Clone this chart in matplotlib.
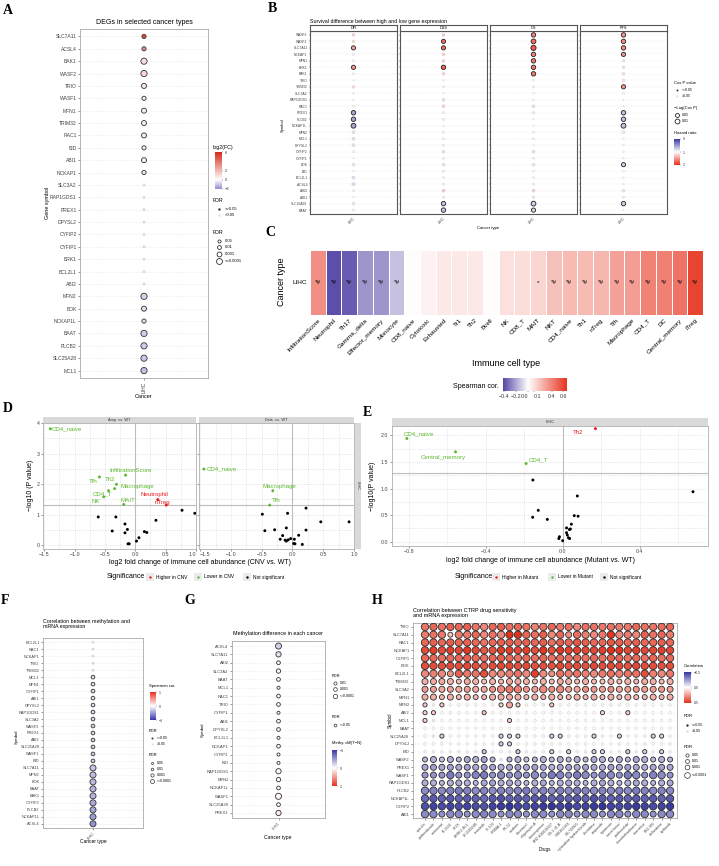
import numpy as np
import matplotlib.pyplot as plt
from matplotlib.colors import LinearSegmentedColormap, Normalize
from matplotlib.cm import ScalarMappable
from matplotlib.patches import Rectangle
from matplotlib.ticker import AutoMinorLocator

# ---------------- data ----------------
# A  DEGs in LIHC
A_genes = ['SLC7A11', 'ACSL4', 'BAK1', 'WASF2', 'TRIO', 'WASF1', 'MFN1', 'TRIM32', 'RAC1', 'BID',
           'ABI1', 'NCKAP1', 'SLC3A2', 'RAP1GDS1', 'PREX1', 'DPYSL2', 'CYFIP2', 'CYFIP1', 'BRK1',
           'BCL2L1', 'ABI2', 'MFN2', 'BOK', 'NCKAP1L', 'BAAT', 'PLCB2', 'SLC25A28', 'MCL1']
A_log2fc = [5.0, 3.2, 1.0, 1.1, 0.8, 0.6, 0.6, 0.6, 0.7, 0.4, 0.5, 0.6, 0.1, 0.1, 0.2, 0.1, 0.1,
            0.1, 0.2, 0.1, 0.1, -0.8, -0.6, -0.5, -0.9, -0.9, -1.0, -1.1]
A_fdr = [1e-2, 1e-2, 1e-5, 1e-5, 1e-3, 1e-2, 1e-3, 1e-3, 1e-3, 1e-2, 1e-3, 1e-2, 0.6, 0.7, 0.3,
         0.3, 0.3, 0.6, 0.3, 0.3, 0.3, 1e-4, 1e-3, 1e-2, 1e-5, 1e-4, 1e-4, 1e-5]

# B  survival (hazard ratio, cox p) per endpoint
B_genes = ['WASF2', 'WASF1', 'SLC7A11', 'NCKAP1', 'MFN1', 'BRK1', 'BAK1', 'TRIO', 'TRIM32', 'SLC3A2',
           'RAP1GDS1', 'RAC1', 'PREX1', 'PLCB2', 'NCKAP1L', 'MFN2', 'MCL1', 'DPYSL2', 'CYFIP2',
           'CYFIP1', 'BOK', 'BID', 'BCL2L1', 'ACSL4', 'ABI2', 'ABI1', 'SLC25A28', 'BAAT']
B_facets = ['DFI', 'DSS', 'OS', 'PFS']
B_hr_dfi = [1.25, 1.2, 1.45, 1.0, 1.0, 1.5, 1.0, 1.0, 1.2, 1.0, 1.0, 1.0, 0.55, 0.55, 0.55, 0.85,
            0.85, 0.85, 0.95, 1.0, 0.88, 1.0, 0.85, 0.82, 1.05, 1.0, 0.88, 0.95]
B_p_dfi = [0.2, 0.25, 0.03, 0.3, 0.4, 0.03, 0.4, 0.8, 0.2, 0.5, 0.7, 0.5, 0.02, 0.02, 0.01, 0.15,
           0.15, 0.15, 0.4, 0.8, 0.2, 0.7, 0.15, 0.1, 0.4, 0.8, 0.2, 0.4]
B_hr_dss = [1.25, 1.7, 1.7, 1.25, 1.25, 1.75, 1.25, 1.0, 1.05, 1.0, 0.85, 1.25, 0.95, 0.95, 1.0,
            0.95, 0.95, 0.95, 0.85, 0.95, 0.85, 0.95, 0.95, 0.95, 1.3, 0.95, 0.7, 0.7]
B_p_dss = [0.2, 0.03, 0.03, 0.2, 0.2, 0.02, 0.2, 0.9, 0.4, 0.9, 0.2, 0.2, 0.4, 0.4, 0.9, 0.4, 0.4,
           0.4, 0.2, 0.4, 0.2, 0.4, 0.4, 0.4, 0.15, 0.4, 0.02, 0.02]
B_hr_os = [1.6, 1.7, 1.8, 1.6, 1.65, 1.65, 1.65, 1.0, 1.05, 1.0, 1.0, 1.2, 0.9, 1.0, 1.0, 0.95,
           0.95, 1.0, 0.85, 0.95, 0.85, 0.95, 0.95, 0.95, 1.25, 1.15, 0.75, 0.8]
B_p_os = [0.02, 0.01, 0.005, 0.02, 0.02, 0.02, 0.02, 0.5, 0.4, 0.6, 0.6, 0.2, 0.3, 0.9, 0.9, 0.4,
          0.4, 0.9, 0.2, 0.5, 0.2, 0.5, 0.5, 0.4, 0.15, 0.3, 0.01, 0.03]
B_hr_pfs = [1.5, 1.55, 1.55, 1.5, 1.15, 1.15, 1.15, 1.15, 1.5, 1.0, 1.0, 1.0, 0.7, 0.7, 0.7, 0.9,
            1.0, 1.0, 1.0, 1.0, 0.75, 1.0, 1.0, 1.0, 1.15, 1.1, 0.75, 1.0]
B_p_pfs = [0.02, 0.02, 0.02, 0.03, 0.3, 0.3, 0.2, 0.25, 0.03, 0.4, 0.9, 0.9, 0.02, 0.02, 0.01, 0.2,
           0.6, 0.5, 0.6, 0.6, 0.03, 0.5, 0.6, 0.6, 0.2, 0.4, 0.02, 0.7]

# C  immune infiltration correlation
C_cells = ['InfiltrationScore', 'Neutrophil', 'Th17', 'Gamma_delta', 'Effector_memory', 'Monocyte',
           'CD8_naive', 'Cytotoxic', 'Exhausted', 'Tr1', 'Th2', 'Bcell', 'NK', 'CD8_T', 'MAIT', 'NKT',
           'CD4_naive', 'Th1', 'nTreg', 'Tfh', 'Macrophage', 'CD4_T', 'DC', 'Central_memory', 'iTreg']
C_cor = [0.36, -0.40, -0.37, -0.24, -0.24, -0.14, 0.01, 0.04, 0.07, 0.07, 0.07, 0.01, 0.10, 0.11,
         0.13, 0.20, 0.22, 0.22, 0.23, 0.30, 0.31, 0.40, 0.41, 0.45, 0.60]
C_mark = ['*#', '*#', '*#', '*#', '*#', '*#', '', '', '', '', '', '', '', '', '*', '*#', '*#', '*#',
          '*#', '*#', '*#', '*#', '*#', '*#', '*#']

# D  CNV vs WT
D_amp_x = [-1.40, -0.16, -0.59, -0.31, -0.34, -0.44, -0.52, -0.19, 0.37, 0.51,
           -0.61, -0.32, -0.38, -0.17, -0.13, -0.17, -0.12, -0.10, 0.02, 0.06, 0.15, 0.19, 0.34, 0.77, 0.98]
D_amp_y = [3.81, 2.29, 2.23, 1.99, 1.85, 1.78, 1.58, 1.33, 1.49, 1.31,
           0.92, 0.92, 0.46, 0.69, 0.51, 0.40, 0.04, 0.04, 0.13, 0.24, 0.44, 0.41, 0.81, 1.14, 1.04]
D_amp_grp = ['down'] * 8 + ['up'] * 2 + ['ns'] * 15
D_amp_lab = ['CD4_naive', 'InfiltrationScore', 'Tfh', 'Th2', 'Macrophage', 'CD4_T', 'NK', 'MAIT',
             'Neutrophil', 'nTreg'] + [''] * 15
D_del_x = [-1.44, -0.32, -0.37,
           -0.49, -0.08, 0.22, -0.45, -0.29, -0.10, 0.22, 0.46, 0.92, -0.16, -0.20, -0.12, -0.10,
           -0.07, -0.03, 0.03, 0.10, 0.02, 0.04, 0.16]
D_del_y = [2.49, 1.78, 1.31,
           1.01, 1.04, 1.21, 0.47, 0.50, 0.56, 0.49, 0.76, 0.76, 0.31, 0.19, 0.16, 0.13,
           0.17, 0.21, 0.19, 0.32, 0.05, 0.04, 0.02]
D_del_grp = ['down'] * 3 + ['ns'] * 20
D_del_lab = ['CD4_naive', 'Macrophage', 'Tfh'] + [''] * 20

# E  mutant vs WT
E_x = [-0.81, -0.557, -0.19, 0.17, -0.155, 0.076, 0.677, -0.127, -0.156, -0.08, 0.06, 0.08, 0.045,
       0.02, 0.035, 0.04, 0.02, 0.024, 0.03, 0.036, -0.017, -0.02, 0.0]
E_y = [1.94, 1.69, 1.47, 2.125, 1.16, 0.86, 0.94, 0.59, 0.46, 0.42, 0.49, 0.48, 0.33, 0.26, 0.23,
       0.24, 0.17, 0.125, 0.075, 0.06, 0.094, 0.06, 0.02]
E_grp = ['down', 'down', 'down', 'up'] + ['ns'] * 19
E_lab = ['CD4_naive', 'Central_memory', 'CD4_T', 'Th2'] + [''] * 19

# F  methylation vs mRNA
F_genes = ['BCL2L1', 'RAC1', 'NCKAP1', 'TRIO', 'TRIM32', 'MCL1', 'MFN1', 'CYFIP1', 'ABI1', 'DPYSL2',
           'RAP1GDS1', 'SLC3A2', 'WASF2', 'PREX1', 'ABI2', 'SLC25A28', 'WASF1', 'BID', 'SLC7A11',
           'MFN2', 'BOK', 'BAAT', 'BAK1', 'CYFIP2', 'PLCB2', 'NCKAP1L', 'ACSL4']
F_cor = [0.0, -0.02, -0.03, -0.04, -0.05, -0.15, -0.16, -0.17, -0.17, -0.18, -0.19, -0.2, -0.2,
         -0.21, -0.22, -0.23, -0.24, -0.25, -0.3, -0.33, -0.35, -0.37, -0.38, -0.42, -0.45, -0.5, -0.55]
F_fdr = [0.5, 0.4, 0.3, 0.2, 0.1, 0.01, 0.01, 0.01, 0.01, 0.01, 0.01, 0.01, 0.01, 0.01, 0.01, 0.01,
         0.01, 0.005, 1e-4, 1e-5, 1e-5, 1e-5, 1e-5, 1e-5, 1e-5, 1e-5, 1e-5]

# G  methylation difference
G_genes = ['ACSL4', 'SLC7A11', 'ABI2', 'SLC3A2', 'BAAT', 'MCL1', 'RAC1', 'TRIO', 'CYFIP1', 'ABI1',
           'DPYSL2', 'BCL2L1', 'NCKAP1', 'CYFIP2', 'BID', 'RAP1GDS1', 'MFN2', 'NCKAP1L', 'WASF1',
           'SLC25A28', 'PREX1']
G_diff = [-0.25, -0.15, -0.02, -0.03, 0.02, 0.0, 0.02, 0.02, 0.0, 0.01, 0.02, 0.0, 0.01, 0.01, 0.0,
          0.03, 0.02, 0.03, 0.05, 0.02, 0.1]
G_fdr = [1e-8, 1e-6, 1e-3, 1e-4, 1e-3, 1e-2, 1e-3, 1e-3, 1e-2, 1e-3, 1e-3, 1e-2, 1e-3, 1e-2, 1e-2,
         1e-6, 1e-4, 1e-3, 1e-8, 1e-3, 1e-6]

# H  CTRP drug sensitivity correlation (x100)
H_drugs = ['apicidin', 'parbendazole', 'vorinostat', 'BI-2536', 'ISOX', 'LRRK2-IN-1', 'LY-2183240',
           'tivantinib', 'PI-103', 'PRIMA-1', 'PX-12', 'ouabain', 'docetaxel', 'oligomycin A',
           'staurosporine', 'BRD-K30019337', 'CR-1-31-B', 'GSK461364', 'SB-743921',
           'cytarabine hydrochloride', 'decitabine', 'etoposide', 'topotecan', 'narciclasine',
           'parthenolide', 'triazolothiadiazine', 'vincristine', 'KX2-391', 'clofarabine', 'tipifarnib']
H_genes = ['TRIO', 'SLC7A11', 'RAC1', 'NCKAP1', 'CYFIP1', 'BOK', 'BCL2L1', 'TRIM32', 'SLC3A2', 'MFN1',
           'MFN2', 'ABI2', 'MCL1', 'BAAT', 'SLC25A28', 'DPYSL2', 'BID', 'WASF2', 'PREX1', 'WASF1',
           'RAP1GDS1', 'PLCB2', 'NCKAP1L', 'CYFIP2', 'ABI1']
H_cor = [
    [35, 38, 36, 40, 38, 40, 35, 30, 38, 40, 36, 38, 35, 32, 35, 38, 34, 36, 30, 36, 35, 34, 36, 33, 34, 38, 36, 35, 37, 38],
    [33, 35, 34, 15, 33, 33, 38, 30, 36, 30, 55, 56, 38, 36, 40, 30, 38, 28, 36, 32, 30, 34, 50, 30, 33, 30, 40, 35, 38, 33],
    [38, 40, 38, 40, 38, 40, 38, 35, 38, 40, 40, 38, 40, 38, 40, 36, 40, 38, 42, 40, 38, 38, 42, 40, 38, 40, 38, 38, 40, 38],
    [45, 48, 45, 48, 46, 50, 46, 42, 44, 48, 48, 46, 48, 45, 50, 45, 50, 48, 48, 46, 46, 48, 52, 50, 46, 48, 46, 46, 48, 46],
    [38, 38, 36, 38, 38, 40, 38, 36, 38, 40, 38, 36, 38, 36, 38, 36, 38, 36, 38, 36, 38, 36, 40, 38, 36, 38, 36, 38, 36, 38],
    [45, 45, 44, 46, 45, 46, 45, 42, 45, 46, 46, 44, 46, 44, 45, 44, 46, 44, 45, 44, 46, 45, 46, 45, 44, 46, 45, 45, 44, 45],
    [30, 32, 30, 28, 40, 34, 35, 45, 30, 30, 32, 35, 30, 48, 30, 28, 36, 32, 35, 32, 30, 34, 36, 32, 35, 36, 45, 32, 30, 34],
    [20, 22, 22, 20, 18, 22, 20, 15, 20, 18, 22, 22, 20, 18, 20, 18, 22, 20, 18, 20, 18, 16, 20, 18, 20, 18, 22, 20, 18, 20],
    [24, 24, 22, 24, 22, 24, 22, 22, 28, 30, 34, 32, 26, 24, 30, 28, 30, 24, 22, 28, 26, 24, 28, 22, 24, 26, 24, 24, 26, 24],
    [20, 20, 18, 20, 18, 20, 18, 18, 20, 20, 22, 20, 18, 20, 18, 20, 18, 18, 20, 18, 20, 18, 20, 18, 20, 18, 18, 20, 18, 20],
    [14, 6, 14, 3, 4, 4, 3, 3, 4, 12, 22, 14, 5, 3, 8, 14, 4, 4, 3, 3, 3, 4, 5, 4, 3, 3, 4, 3, 3, 4],
    [12, 12, 2, 2, 2, 2, 2, 14, 2, 2, 2, 2, 2, 1, 1, 1, 1, 2, 1, 1, 1, 10, 1, 1, 12, 1, 1, 1, 1, 1],
    [12, 8, 2, 1, 1, 1, 1, 1, 1, 2, 12, 1, 1, 1, 1, 2, 1, 1, 1, 1, 1, 1, 1, 1, 1, 1, 1, 1, 1, 1],
    [2, 1, 1, 0, 1, 1, 0, 0, 1, 1, 1, 2, 0, 1, 1, 1, 0, 1, 2, 1, 1, 1, 0, 1, 1, 0, 1, 1, 0, 1],
    [-3, -6, -12, -2, -3, -3, -3, -4, -3, -12, -12, -12, -3, -4, -4, -12, -12, -5, -4, -3, -12, -5, -4, -12, -4, -3, -4, -12, -12, -3],
    [-2, -2, -3, -2, -2, -2, -3, -2, -3, -12, -12, -3, -2, -3, -2, -2, -3, -2, -2, -3, -2, -2, -2, -3, -2, -2, -3, -2, -2, -3],
    [-4, -4, -3, -4, -5, -4, -4, -14, -4, -4, -4, -14, -4, -4, -4, -12, -4, -12, -4, -4, -12, -12, -4, -4, -12, -4, -12, -4, -12, -4],
    [-18, -20, -16, -20, -18, -22, -20, -24, -18, -8, -18, -20, -16, -18, -20, -18, -20, -18, -20, -18, -22, -20, -18, -20, -18, -22, -20, -18, -20, -18],
    [-22, -24, -22, -24, -22, -24, -22, -26, -24, -20, -22, -24, -22, -24, -22, -20, -22, -24, -22, -24, -22, -20, -24, -22, -24, -22, -20, -22, -24, -22],
    [-26, -28, -28, -34, -28, -28, -32, -34, -28, -30, -28, -30, -28, -30, -28, -34, -32, -28, -34, -30, -28, -32, -30, -28, -34, -30, -28, -32, -30, -28],
    [-20, -20, -18, -20, -22, -20, -18, -22, -24, -20, -22, -20, -18, -20, -22, -18, -20, -22, -20, -18, -20, -22, -20, -18, -20, -22, -20, -18, -20, -22],
    [-30, -32, -30, -32, -34, -32, -30, -32, -30, -32, -30, -32, -34, -30, -32, -30, -32, -30, -34, -32, -30, -32, -30, -32, -30, -34, -32, -30, -32, -30],
    [-38, -42, -40, -42, -40, -42, -40, -38, -42, -44, -40, -42, -40, -42, -44, -40, -42, -40, -42, -40, -44, -42, -40, -42, -40, -42, -40, -42, -40, -42],
    [-45, -48, -46, -48, -46, -48, -46, -44, -48, -50, -52, -48, -46, -48, -50, -52, -48, -50, -46, -48, -50, -52, -48, -46, -48, -50, -48, -46, -48, -50],
    [-30, -30, -28, -30, -30, -28, -30, -32, -30, -28, -30, -30, -28, -30, -30, -28, -30, -30, -28, -30, -30, -28, -30, -30, -28, -30, -30, -28, -30, -30],
]

# ---------------- figure ----------------
plt.rcParams['font.family'] = ['Liberation Sans', 'DejaVu Sans']
W, H = 719, 866
fig = plt.figure(figsize=(W / 100, H / 100), dpi=100)


def box(l, t, r, b, **kw):
    # axes from pixel box (left, top, right, bottom)
    return fig.add_axes([l / W, 1 - b / H, (r - l) / W, (b - t) / H], **kw)


ov = box(0, 0, W, H, zorder=20)
ov.set_xlim(0, W)
ov.set_ylim(H, 0)
ov.axis('off')


def txt(x, y, s, fs=3.5, **kw):
    kw.setdefault('va', 'center')
    ov.text(x, y, s, fontsize=fs, **kw)


def pt(x, y, s, fc, ec='none', lw=0.5):
    ov.scatter([x], [y], s=s, c=[fc], edgecolors=[ec], linewidths=lw, clip_on=False)


def cbar(l, t, r, b, cmap, norm, ticks, labels, flip=False, horiz=False, fs=3):
    cax = box(l, t, r, b)
    cb = fig.colorbar(ScalarMappable(norm=norm, cmap=cmap), cax=cax,
                      orientation='horizontal' if horiz else 'vertical')
    cb.set_ticks(ticks)
    cb.set_ticklabels(labels)
    cb.outline.set_visible(False)
    cax.tick_params(labelsize=fs, length=1, width=0.3, pad=1, colors='#333333')
    if flip:
        cax.invert_yaxis()
    return cb


def frame(ax, col='#a8a8a8', lw=0.6):
    for sp in ax.spines.values():
        sp.set_color(col)
        sp.set_linewidth(lw)
    ax.tick_params(length=1.5, width=0.4, pad=1, colors='#444444')


def fdr_size(fdr, levels):
    fdr = np.asarray(fdr)
    return np.select([fdr <= 1e-4, fdr <= 1e-3, fdr <= 1e-2, fdr <= 0.05], levels[:4], levels[4])


def dotcol(rect, genes, vals, sizes, sig, cmap, norm, fs, rot):
    ax = box(*rect)
    n = len(genes)
    yy = np.arange(n)
    ec = ['#333333' if s else '#d0d0d0' for s in sig]
    ax.scatter(np.zeros(n), yy, s=sizes, c=vals, cmap=cmap, norm=norm, edgecolors=ec,
               linewidths=0.6, zorder=3)
    ax.set_xlim(-1, 1)
    ax.set_ylim(n - 0.4, -0.6)
    ax.set_yticks(yy, genes, fontsize=fs)
    if rot == 90:
        ax.set_xticks([0], ['LIHC'], fontsize=fs, rotation=90)
    else:
        ax.set_xticks([0], ['LIHC'], fontsize=fs, rotation=rot, ha='right', rotation_mode='anchor')
    ax.grid(axis='y', color='#e3e3e3', lw=0.4, ls=(0, (2, 2)))
    ax.set_axisbelow(True)
    frame(ax)
    return ax


sig_col = {'up': '#e41a1c', 'down': '#5cb82e', 'ns': '#000000'}

# ---------- panel letters ----------
for lab, (x, y) in {'A': (8, 10), 'B': (272, 9), 'C': (270, 232), 'D': (8, 409), 'E': (367, 413),
                    'F': (5, 600), 'G': (190, 601), 'H': (377, 601)}.items():
    fig.text(x / W, 1 - y / H, lab, fontsize=10, fontweight='bold', family='Liberation Serif',
             ha='center', va='center')

# ---------- A ----------
cm_fc = LinearSegmentedColormap.from_list('fc', [(0, '#9b8bcf'), (0.25, '#ffffff'), (1, '#d42a1a')])
nm_fc = Normalize(-2, 6)
A_sig = [f <= 0.05 for f in A_fdr]
axA = dotcol((80, 29, 208, 378), A_genes, A_log2fc, fdr_size(A_fdr, [20, 13, 9, 5, 2]), A_sig,
             cm_fc, nm_fc, 3.6, 90)
txt(144, 23, 'DEGs in selected cancer types', 5, ha='center')
txt(144, 397, 'Cancer', 4, ha='center')
txt(47, 203, 'Gene symbol', 4, ha='center', rotation=90)
txt(213, 147, 'log2(FC)', 3.8)
cbar(215, 152, 222, 189, cm_fc, nm_fc, [6, 2, 0, -2], ['6', '2', '0', '\u22122'], fs=3)
txt(213, 200, 'FDR', 3.8)
pt(219, 209, 3, '#333333')
txt(225, 209, '<=0.05', 3)
pt(219, 215, 3, '#dddddd')
txt(225, 215, '>0.05', 3)
txt(213, 232, 'FDR', 3.8)
for yy, s, lab in zip([241, 247, 254, 261], [5, 8, 12, 18], ['0.05', '0.01', '0.001', '<=0.0001']):
    pt(219, yy, s, 'none', '#333333', 0.6)
    txt(225, yy, lab, 3)

# ---------- B ----------
cm_hr = LinearSegmentedColormap.from_list('hr', ['#3838a6', '#ffffff', '#ee2c1c'])
nm_hr = Normalize(0, 2)
B_hr = [B_hr_dfi, B_hr_dss, B_hr_os, B_hr_pfs]
B_p = [B_p_dfi, B_p_dss, B_p_os, B_p_pfs]
nB = len(B_genes)
for k, fac in enumerate(B_facets):
    l = 310 + 90 * k
    ax = box(l, 31, l + 87, 214)
    p = np.array(B_p[k])
    sig = p <= 0.05
    ax.scatter(np.zeros(nB), np.arange(nB), s=np.clip(-np.log10(p) * 6, 0.8, None), c=B_hr[k],
               cmap=cm_hr, norm=nm_hr, edgecolors=['#222222' if s else '#cccccc' for s in sig],
               linewidths=np.where(sig, 0.6, 0.3), zorder=3)
    ax.set_xlim(-1, 1)
    ax.set_ylim(nB - 0.4, -0.6)
    ax.set_yticks(np.arange(nB), B_genes if k == 0 else [], fontsize=2.4)
    ax.set_xticks([0], ['LIHC'], fontsize=2.6, rotation=45, ha='right', rotation_mode='anchor')
    ax.grid(axis='y', color='#e6e6e6', lw=0.35, ls=(0, (2, 2)))
    ax.set_axisbelow(True)
    frame(ax, '#555555', 0.8)
    ax.tick_params(length=1, width=0.3, pad=0.8)
    st = box(l, 25, l + 87, 31)
    st.set_xticks([])
    st.set_yticks([])
    frame(st, '#555555', 0.8)
    st.text(0.5, 0.5, fac, fontsize=2.8, ha='center', va='center', transform=st.transAxes)
txt(310, 21, 'Survival difference between high and low gene expression', 3.8)
txt(283, 125, 'Symbol', 3, ha='center', rotation=90)
txt(488, 228, 'Cancer type', 3, ha='center')
txt(674, 83, 'Cox P value', 3)
pt(677, 90, 2, '#333333')
txt(682, 90, '<=0.05', 2.5)
pt(677, 96, 2, '#dddddd')
txt(682, 96, '>0.05', 2.5)
txt(674, 108, '\u2212Log(Cox P)', 3)
for yy, s, lab in zip([115, 121], [8, 12], ['0.05', '0.01']):
    pt(677, yy, s, 'none', '#222222', 0.6)
    txt(682, yy, lab, 2.5)
txt(674, 133, 'Hazard ratio', 3)
cbar(674, 139, 680, 165, cm_hr, nm_hr, [0, 1, 2], ['0', '1', '2'], flip=True, fs=2.5)

# ---------- C ----------
cm_c = LinearSegmentedColormap.from_list('c', [(0, '#5647a6'), (0.389, '#ffffff'), (1, '#e6321e')])
nm_c = Normalize(-0.42, 0.66)
axC = box(310, 250, 703, 315)
axC.pcolormesh(np.array([C_cor]), cmap=cm_c, norm=nm_c, edgecolors='white', linewidth=0.4)
axC.set_xlim(0, len(C_cells))
axC.set_ylim(0, 1)
axC.set_xticks(np.arange(len(C_cells)) + 0.5, C_cells, rotation=45, ha='right', va='top',
               rotation_mode='anchor', fontsize=4.6)
axC.set_yticks([0.5], ['LIHC'], fontsize=4.6)
for i, m in enumerate(C_mark):
    axC.text(i + 0.5, 0.5, m, ha='center', va='center', fontsize=4.6)
for sp in axC.spines.values():
    sp.set_visible(False)
axC.tick_params(length=0, pad=2)
txt(282, 282, 'Cancer type', 6.5, ha='center', rotation=90)
txt(506, 363, 'Immune cell type', 6.5, ha='center')
txt(499, 387, 'Spearman cor.', 5, ha='right')
cbC = cbar(503, 378, 567, 391, cm_c, nm_c, [-0.4, -0.2, 0.0, 0.1, 0.4, 0.6],
           ['\u22120.4', '\u22120.2', '0.0', '0.1', '0.4', '0.6'], horiz=True, fs=3.8)
# crowded labels: push the middle pair apart
tl = cbC.ax.get_xticklabels()
tl[2].set_ha('right')
tl[3].set_ha('left')


# ---------- D / E ----------
def volc(rect, xs, ys, grp, xlim, ylim, xt, xl, yt, yl):
    ax = box(*rect)
    ax.scatter(xs, ys, s=4.5, c=[sig_col[g] for g in grp], linewidths=0, zorder=3)
    ax.axhline(-np.log10(0.05), color='#bdbdbd', lw=0.8, zorder=2)
    ax.axvline(0, color='#bdbdbd', lw=0.8, zorder=2)
    ax.set_xlim(xlim)
    ax.set_ylim(ylim)
    ax.set_xticks(xt, xl, fontsize=3.8)
    ax.set_yticks(yt, yl, fontsize=3.8)
    ax.xaxis.set_minor_locator(AutoMinorLocator(2))
    ax.yaxis.set_minor_locator(AutoMinorLocator(2))
    ax.grid(which='both', color='#d6d6d6', lw=0.4, ls=(0, (2, 2)))
    ax.set_axisbelow(True)
    frame(ax, '#b0b0b0', 0.6)
    ax.tick_params(which='minor', length=0)
    return ax


def strip(rect, s, rot=0):
    st = box(*rect)
    st.set_facecolor('#d9d9d9')
    st.set_xticks([])
    st.set_yticks([])
    for sp in st.spines.values():
        sp.set_visible(False)
    st.text(0.5, 0.5, s, fontsize=2.8, ha='center', va='center', rotation=rot, transform=st.transAxes,
            color='#333333')


dxt = [-1.5, -1.0, -0.5, 0.0, 0.5, 1.0]
dxl = ['\u22121.5', '\u22121.0', '\u22120.5', '0.0', '0.5', '1.0']
axD1 = volc((43, 423, 196, 549), D_amp_x, D_amp_y, D_amp_grp, (-1.52, 1.0), (-0.13, 4.0),
            dxt, dxl, [0, 1, 2, 3, 4], ['0', '1', '2', '3', '4'])
axD2 = volc((199, 423, 354, 549), D_del_x, D_del_y, D_del_grp, (-1.52, 1.0), (-0.13, 4.0),
            dxt, dxl, [0, 1, 2, 3, 4], [])
# facet edge labels sit side by side ("1.0-1.5")
axD1.get_xticklabels()[-1].set_ha('right')
axD2.get_xticklabels()[0].set_ha('left')
strip((43, 417, 196, 423), 'Amp. vs. WT')
strip((199, 417, 354, 423), 'Dele. vs. WT')
strip((355, 423, 361, 549), 'LIHC', rot=-90)
D1_txt = {'CD4_naive': (-1.37, 3.81, 'left'), 'InfiltrationScore': (-0.07, 2.43, 'center'),
          'Tfh': (-0.69, 2.09, 'center'), 'Th2': (-0.42, 2.16, 'center'),
          'Macrophage': (0.04, 1.93, 'center'), 'CD4_T': (-0.54, 1.69, 'center'),
          'NK': (-0.65, 1.44, 'center'), 'MAIT': (-0.12, 1.47, 'center'),
          'Neutrophil': (0.31, 1.66, 'center'), 'nTreg': (0.45, 1.40, 'center')}
D2_txt = {'CD4_naive': (-1.40, 2.49, 'left'), 'Macrophage': (-0.22, 1.91, 'center'),
          'Tfh': (-0.27, 1.45, 'center')}
for ax, labs, grps, pos in [(axD1, D_amp_lab, D_amp_grp, D1_txt), (axD2, D_del_lab, D_del_grp, D2_txt)]:
    for lab, g in zip(labs, grps):
        if lab:
            x, y, ha = pos[lab]
            ax.text(x, y, lab, color=sig_col[g], fontsize=4.4, ha=ha, va='center', zorder=4)
txt(200, 562, 'log2 fold change of immune cell abundance (CNV vs. WT)', 5, ha='center')
txt(30, 485, '\u2212log10 (P value)', 5, ha='center', rotation=90)

axE = volc((392, 426, 708, 546), E_x, E_y, E_grp, (-0.887, 0.755), (-0.08, 2.175),
           [-0.8, -0.4, 0.0, 0.4], ['\u22120.8', '\u22120.4', '0.0', '0.4'],
           [0.0, 0.5, 1.0, 1.5, 2.0], ['0.0', '0.5', '1.0', '1.5', '2.0'])
strip((392, 418, 708, 426), 'LIHC')
E_txt = {'CD4_naive': (-0.748, 2.02), 'Central_memory': (-0.62, 1.58), 'CD4_T': (-0.127, 1.54),
         'Th2': (0.08, 2.06)}
for lab, g in zip(E_lab, E_grp):
    if lab:
        x, y = E_txt[lab]
        axE.text(x, y, lab, color=sig_col[g], fontsize=4.4, ha='center', va='center', zorder=4)
txt(540, 560, 'log2 fold change of immune cell abundance (Mutant vs. WT)', 5, ha='center')
txt(372, 486, '\u2212log10(P value)', 5, ha='center', rotation=90)

# significance legends
for x0, items in [(107, [(150, 'up', 'Higher in CNV'), (198, 'down', 'Lower in CNV'),
                         (247, 'ns', 'Not significant')]),
                  (455, [(496, 'up', 'Higher in Mutant'), (552, 'down', 'Lower in Mutant'),
                         (604, 'ns', 'Not significant')])]:
    txt(x0, 577, 'Significance', 5)
    for xm, g, lab in items:
        ov.add_patch(Rectangle((xm - 4, 573), 8, 8, fc='#ebebeb', ec='none'))
        pt(xm, 577, 3, sig_col[g])
        txt(xm + 6, 577, lab, 3.5)

# ---------- F ----------
cm_m = LinearSegmentedColormap.from_list('m', ['#3838a6', '#ffffff', '#e8311f'])
nm_m = Normalize(-1, 1)
F_sig = [f <= 0.05 for f in F_fdr]
dotcol((43, 638, 143, 828), F_genes, F_cor, fdr_size(F_fdr, [19, 12, 7, 4, 2]), F_sig, cm_m, nm_m,
       2.8, 45)
txt(43, 624, 'Correlation between methylation and\nmRNA expression', 3.8, linespacing=1.1)
txt(93, 842, 'Cancer type', 3.5, ha='center')
txt(17, 737, 'Symbol', 3.2, ha='center', rotation=90)
txt(149, 686, 'Spearman cor.', 3)
cbar(150, 692, 156, 720, cm_m, nm_m, [1, 0, -1], ['1', '0', '\u22121'], fs=2.6)
txt(149, 731, 'FDR', 3)
pt(152, 738, 2, '#333333')
txt(157, 738, '<=0.05', 2.5)
pt(152, 744, 2, '#dddddd')
txt(157, 744, '>0.05', 2.5)
txt(149, 755, 'FDR', 3)
for yy, s, lab in zip([763, 769, 775, 781], [4, 7, 11, 17], ['0.05', '0.01', '0.001', '<=0.0001']):
    pt(152, yy, s * 0.5, 'none', '#333333', 0.5)
    txt(157, yy, lab, 2.5)

# ---------- G ----------
G_sig = [f <= 0.05 for f in G_fdr]
dotcol((232, 641, 325, 818), G_genes, G_diff, np.clip(-np.log10(G_fdr) * 2.4, 2, None), G_sig,
       cm_m, nm_m, 3, 45)
txt(278, 633, 'Methylation difference in each cancer', 3.9, ha='center')
txt(278, 837, 'Cancer type', 3.6, ha='center')
txt(203, 730, 'Symbol', 3.2, ha='center', rotation=90)
txt(332, 676, 'FDR', 3)
for yy, s, lab in zip([683, 689, 696], [5, 7, 10], ['0.01', '0.001', '<=0.0001']):
    pt(335, yy, s, 'none', '#333333', 0.5)
    txt(340, yy, lab, 2.5)
txt(332, 717, 'FDR', 3)
pt(335, 725, 4, 'none', '#333333', 0.5)
txt(340, 725, '<=0.05', 2.5)
txt(332, 743, 'Methy. diff(T\u2212N)', 3)
cbar(332, 750, 337, 786, cm_m, nm_m, [-1, 0, 1], ['\u22121', '0', '1'], flip=True, fs=2.6)

# ---------- H ----------
cm_h = LinearSegmentedColormap.from_list('h', ['#3434a0', '#ffffff', '#e3301b'])
nm_h = Normalize(-0.52, 0.52)
R = np.array(H_cor) / 100
nr, nc = R.shape
xx, yy = np.meshgrid(np.arange(nc), np.arange(nr))
ar = np.abs(R)
hsz = np.select([ar >= 0.3, ar >= 0.2, ar >= 0.15, ar >= 0.1], [28, 19, 13, 9], 4)
hsig = ar >= 0.1
axH = box(413, 623, 677, 818)
axH.scatter(xx.ravel(), yy.ravel(), s=hsz.ravel(), c=R.ravel(), cmap=cm_h, norm=nm_h,
            edgecolors=np.where(hsig, '#2a2a2a', '#cfcfcf').ravel(),
            linewidths=np.where(hsig, 0.6, 0.3).ravel(), zorder=3)
axH.set_xlim(-1.42, nc - 0.18)
axH.set_ylim(nr - 0.5, -0.5)
axH.set_xticks(np.arange(nc), H_drugs, rotation=45, ha='right', rotation_mode='anchor', fontsize=2.6)
axH.set_yticks(np.arange(nr), H_genes, fontsize=2.9)
axH.grid(color='#e6e6e6', lw=0.35, ls=(0, (2, 2)))
axH.set_axisbelow(True)
frame(axH)
txt(413, 613, 'Correlation between CTRP drug sensitivity\nand mRNA expression', 4, linespacing=1.05)
txt(390, 720, 'Symbol', 3.3, ha='center', rotation=90)
txt(545, 850, 'Drugs', 3.3, ha='center')
txt(684, 666, 'Correlation', 3)
cbar(684, 672, 691, 703, cm_h, nm_h, [-0.5, 0.0, 0.5], ['\u22120.5', '0.0', '0.5'], flip=True, fs=2.6)
txt(684, 716, 'FDR', 3.2)
pt(687, 725, 3, '#333333')
txt(692, 725, '<=0.05', 2.6)
pt(687, 731, 3, '#dddddd')
txt(692, 731, '>0.05', 2.6)
txt(684, 747, 'FDR', 3.2)
for yy_, s, lab in zip([755, 761, 767, 775], [9, 13, 19, 28], ['0.05', '0.01', '0.001', '<=0.0001']):
    pt(687, yy_, s * 0.6, 'none', '#333333', 0.5)
    txt(692, yy_, lab, 2.6)

fig.savefig('out.png', dpi=100, facecolor='white')
